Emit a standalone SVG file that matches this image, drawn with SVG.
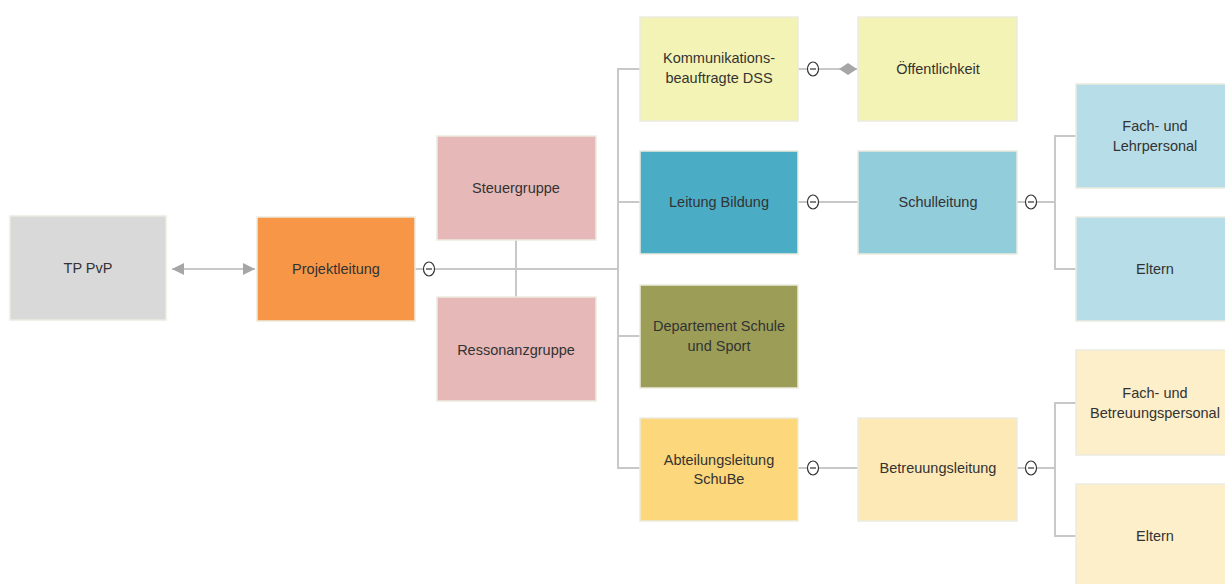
<svg xmlns="http://www.w3.org/2000/svg" width="1225" height="584" viewBox="0 0 1225 584">
<defs>
<style>
.n{stroke:#ebebe0;stroke-width:1.5}
.t{font-family:"Liberation Sans",Arial,sans-serif;font-size:14.5px;fill:#333;text-anchor:middle}
.c{fill:none;stroke:#c8c8c8;stroke-width:2}
.col{fill:#fff;stroke:#333;stroke-width:1.2}
.mn{stroke:#333;stroke-width:1.2}
</style>
<marker id="ar" viewBox="0 0 10 10" refX="10" refY="5" markerWidth="12" markerHeight="12" markerUnits="userSpaceOnUse" orient="auto-start-reverse">
<path d="M0,0 L10,5 L0,10 Z" fill="#a6a6a6"/>
</marker>
<marker id="dm" viewBox="0 0 18 12" refX="18" refY="6" markerWidth="18" markerHeight="12" markerUnits="userSpaceOnUse" orient="auto">
<path d="M0,6 L9,0 L18,6 L9,12 Z" fill="#a6a6a6"/>
</marker>
</defs>
<g id="connectors">
<line class="c" x1="172" y1="269" x2="255" y2="269" stroke="#a6a6a6" marker-start="url(#ar)" marker-end="url(#ar)"/>
<line class="c" x1="415" y1="269" x2="423" y2="269"/>
<line class="c" x1="435" y1="269" x2="618" y2="269"/>
<line class="c" x1="516" y1="240" x2="516" y2="297"/>
<polyline class="c" points="640,69 618,69 618,468 640,468"/>
<line class="c" x1="618" y1="202" x2="640" y2="202"/>
<line class="c" x1="618" y1="336" x2="640" y2="336"/>
<line class="c" x1="798" y1="69" x2="807" y2="69"/>
<line class="c" x1="819" y1="69" x2="857" y2="69" marker-end="url(#dm)"/>
<line class="c" x1="798" y1="202" x2="807" y2="202"/>
<line class="c" x1="819" y1="202" x2="858" y2="202"/>
<line class="c" x1="798" y1="468" x2="807" y2="468"/>
<line class="c" x1="819" y1="468" x2="858" y2="468"/>
<line class="c" x1="1017" y1="202" x2="1025" y2="202"/>
<line class="c" x1="1037" y1="202" x2="1055" y2="202"/>
<polyline class="c" points="1076,136 1055,136 1055,269 1076,269"/>
<line class="c" x1="1017" y1="468" x2="1025" y2="468"/>
<line class="c" x1="1037" y1="468" x2="1055" y2="468"/>
<polyline class="c" points="1076,403 1055,403 1055,536 1076,536"/>
<g id="collapse">
<ellipse class="col" cx="429" cy="269" rx="5.5" ry="7"/><line class="mn" x1="426" y1="269" x2="432" y2="269"/>
<ellipse class="col" cx="813" cy="69" rx="5.5" ry="7"/><line class="mn" x1="810" y1="69" x2="816" y2="69"/>
<ellipse class="col" cx="813" cy="202" rx="5.5" ry="7"/><line class="mn" x1="810" y1="202" x2="816" y2="202"/>
<ellipse class="col" cx="813" cy="468" rx="5.5" ry="7"/><line class="mn" x1="810" y1="468" x2="816" y2="468"/>
<ellipse class="col" cx="1031" cy="202" rx="5.5" ry="7"/><line class="mn" x1="1028" y1="202" x2="1034" y2="202"/>
<ellipse class="col" cx="1031" cy="468" rx="5.5" ry="7"/><line class="mn" x1="1028" y1="468" x2="1034" y2="468"/>
</g>
</g>
<g id="tp"><rect class="n" x="10" y="216" width="156" height="104" fill="#d9d9d9"/><text class="t" x="88" y="273">TP PvP</text></g>
<g id="projektleitung"><rect class="n" x="257" y="217" width="158" height="104" fill="#f79646"/><text class="t" x="336" y="274">Projektleitung</text></g>
<g id="steuergruppe"><rect class="n" x="437" y="136" width="159" height="104" fill="#e6b8b7"/><text class="t" x="516" y="193">Steuergruppe</text></g>
<g id="ressonanzgruppe"><rect class="n" x="437" y="297" width="159" height="104" fill="#e6b8b7"/><text class="t" x="516" y="355">Ressonanzgruppe</text></g>
<g id="kommunikation"><rect class="n" x="640" y="17" width="158" height="104" fill="#f3f3b5"/><text class="t" x="719" y="63">Kommunikations-</text><text class="t" x="719" y="83">beauftragte DSS</text></g>
<g id="leitung-bildung"><rect class="n" x="640" y="151" width="158" height="103" fill="#4bacc6"/><text class="t" x="719" y="207">Leitung Bildung</text></g>
<g id="departement"><rect class="n" x="640" y="285" width="158" height="103" fill="#9c9e58"/><text class="t" x="719" y="331">Departement Schule</text><text class="t" x="719" y="351">und Sport</text></g>
<g id="abteilungsleitung"><rect class="n" x="640" y="418" width="158" height="103" fill="#fcd77b"/><text class="t" x="719" y="465">Abteilungsleitung</text><text class="t" x="719" y="484">SchuBe</text></g>
<g id="oeffentlichkeit"><rect class="n" x="858" y="17" width="159" height="104" fill="#f3f3b5"/><text class="t" x="938" y="74">Öffentlichkeit</text></g>
<g id="schulleitung"><rect class="n" x="858" y="151" width="159" height="103" fill="#92cddc"/><text class="t" x="938" y="207">Schulleitung</text></g>
<g id="betreuungsleitung"><rect class="n" x="858" y="418" width="159" height="103" fill="#fde9b5"/><text class="t" x="938" y="473">Betreuungsleitung</text></g>
<g id="fach-lehrpersonal"><rect class="n" x="1076" y="84" width="160" height="104" fill="#b7dee8"/><text class="t" x="1155" y="131">Fach- und</text><text class="t" x="1155" y="151">Lehrpersonal</text></g>
<g id="eltern1"><rect class="n" x="1076" y="217" width="160" height="104" fill="#b7dee8"/><text class="t" x="1155" y="274">Eltern</text></g>
<g id="fach-betreuungspersonal"><rect class="n" x="1076" y="350" width="160" height="105" fill="#fcefca"/><text class="t" x="1155" y="398">Fach- und</text><text class="t" x="1155" y="418">Betreuungspersonal</text></g>
<g id="eltern2"><rect class="n" x="1076" y="484" width="160" height="105" fill="#fcefca"/><text class="t" x="1155" y="541">Eltern</text></g>
</svg>
